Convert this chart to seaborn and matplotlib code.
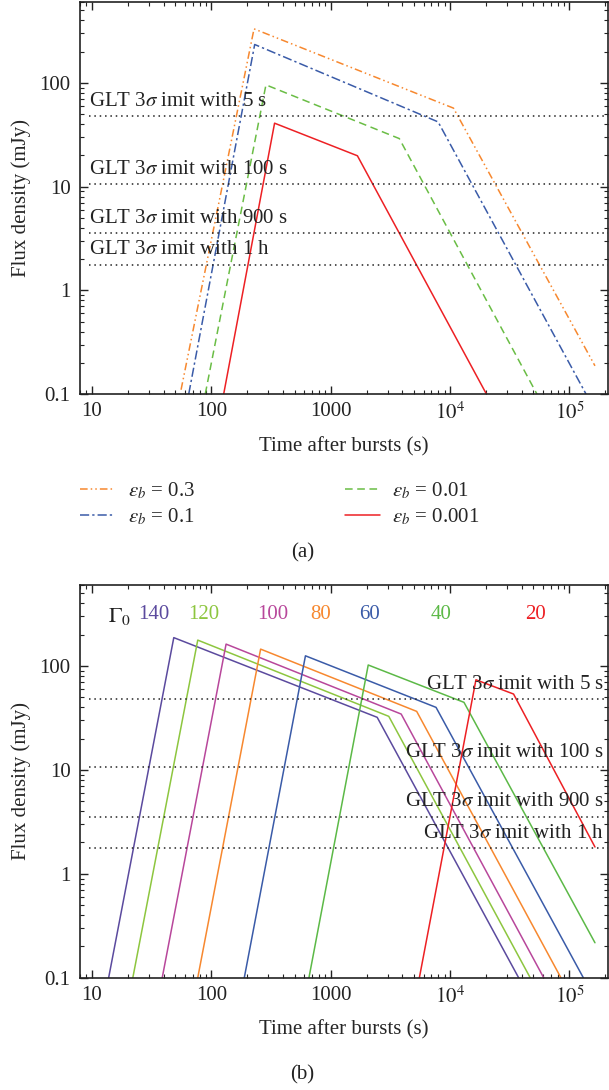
import numpy as np
import pandas as pd
import matplotlib
matplotlib.use("Agg")
import matplotlib.pyplot as plt
from matplotlib.ticker import LogLocator, NullFormatter, FixedLocator, FixedFormatter
import seaborn as sns

# ---- panel (a): light curves for different epsilon_b ----
eps_labels = ["0.3", "0.1", "0.01", "0.001"]
eps_t = [
    [55.8, 228, 10700, 164000],
    [64.7, 231, 7950, 138000],
    [89, 287, 3760, 53500],
    [127, 339, 1676, 20200],
]
eps_f = [
    [0.11, 331, 57, 0.187],
    [0.1, 234, 42, 0.1],
    [0.1, 95.5, 29, 0.1],
    [0.1, 40.8, 19.8, 0.1],
]
eps_colors = ["#f7882f", "#3a5ba8", "#6abd45", "#ed2024"]
eps_styles = [(0, (5, 2, 1, 2, 1, 2)), (0, (6, 2, 1.5, 2)), (0, (5, 3)), "-"]

# ---- panel (b): light curves for different Gamma_0 ----
gam_labels = ["140", "120", "100", "80", "60", "40", "20"]
gam_t = [
    [13.8, 48.5, 2455, 37600],
    [22, 77, 3070, 47000],
    [38.8, 133, 3900, 61000],
    [77, 259, 5260, 85000],
    [189, 615, 7640, 131000],
    [658, 2065, 13100, 164000],
    [5540, 16500, 34100, 164000],
]
gam_f = [
    [0.1, 187, 32, 0.1],
    [0.1, 177, 32.7, 0.1],
    [0.1, 162, 34.4, 0.1],
    [0.1, 145, 36.5, 0.1],
    [0.1, 125, 39.9, 0.1],
    [0.1, 102, 44.6, 0.217],
    [0.1, 73.5, 53.6, 1.81],
]
gam_colors = ["#5b4a9e", "#8dc63f", "#b8479b", "#f7882f", "#3a5ba8", "#5cb947", "#ed2024"]
gam_label_x = [33, 87, 325, 830, 2100, 8450, 52000]

# ---- GLT 3-sigma sensitivity limits ----
limit_names = ["5 s", "100 s", "900 s", "1 h"]
limit_flux = [47.7, 10.6, 3.55, 1.77]

sns.set_theme(style="ticks")
plt.rcParams["font.family"] = ["Liberation Serif", "DejaVu Serif"]
plt.rcParams["mathtext.fontset"] = "stix"
plt.rcParams["xtick.direction"] = "in"
plt.rcParams["ytick.direction"] = "in"

FS = 15
fig = plt.figure(figsize=(6.09, 10.90), dpi=100)
ax_a = fig.add_axes([0.132, 0.6385, 0.866, 0.3596])
ax_b = fig.add_axes([0.132, 0.103, 0.866, 0.3603])


def style_axes(ax):
    ax.set_xscale("log")
    ax.set_yscale("log")
    ax.set_xlim(8, 2.1e5)
    ax.set_ylim(0.1, 600)
    ax.xaxis.set_major_locator(FixedLocator([10, 100, 1000, 1e4, 1e5]))
    ax.xaxis.set_major_formatter(FixedFormatter(["10", "100", "1000", r"$10^4$", r"$10^5$"]))
    ax.yaxis.set_major_locator(FixedLocator([0.1, 1, 10, 100]))
    ax.yaxis.set_major_formatter(FixedFormatter(["0.1", "1", "10", "100"]))
    ax.xaxis.set_minor_locator(LogLocator(base=10, subs=np.arange(2, 10), numticks=20))
    ax.yaxis.set_minor_locator(LogLocator(base=10, subs=np.arange(2, 10), numticks=20))
    ax.xaxis.set_minor_formatter(NullFormatter())
    ax.yaxis.set_minor_formatter(NullFormatter())
    ax.tick_params(which="both", top=True, right=True, labelsize=FS, colors="#222222")
    ax.tick_params(which="major", length=6, width=1.0)
    ax.tick_params(which="minor", length=3, width=0.8)
    ax.tick_params(axis="x", pad=6)
    ax.tick_params(axis="y", pad=7)
    for s in ax.spines.values():
        s.set_visible(True)
        s.set_linewidth(1.2)
        s.set_color("#222222")
    ax.set_xlabel("Time after bursts (s)", fontsize=FS, labelpad=9)
    ax.set_ylabel("Flux density (mJy)", fontsize=FS, labelpad=6)


def draw_limits(ax):
    for f in limit_flux:
        ax.hlines(f, 9.5, 2.1e5, colors="#222222", linestyles=(0, (1, 2.5)), linewidth=1.1)


# panel (a)
for lab, t, f, c, ls in zip(eps_labels, eps_t, eps_f, eps_colors, eps_styles):
    df = pd.DataFrame({"t": t, "f": f})
    sns.lineplot(data=df, x="t", y="f", ax=ax_a, color=c, linewidth=1.1,
                 linestyle=ls, label=r"$\varepsilon_b$ = " + lab, sort=False)
style_axes(ax_a)
draw_limits(ax_a)
for name, f in zip(limit_names, limit_flux):
    ax_a.text(9.5, f * 1.12, r"GLT 3$\sigma$ imit with " + name, fontsize=FS,
              ha="left", va="bottom", color="#222222")
leg = ax_a.legend(loc="upper left", bbox_to_anchor=(-0.037, -0.172), ncol=2, frameon=False,
                  fontsize=FS, handlelength=1.7, columnspacing=7.2, labelspacing=0.25,
                  handletextpad=0.6)

# panel (b)
for lab, t, f, c in zip(gam_labels, gam_t, gam_f, gam_colors):
    df = pd.DataFrame({"t": t, "f": f})
    sns.lineplot(data=df, x="t", y="f", ax=ax_b, color=c, linewidth=1.1,
                 sort=False, legend=False)
style_axes(ax_b)
draw_limits(ax_b)
for name, f in zip(limit_names, limit_flux):
    ax_b.text(1.95e5, f * 1.12, r"GLT 3$\sigma$ imit with " + name, fontsize=FS,
              ha="right", va="bottom", color="#222222")
ax_b.text(17, 300, r"$\Gamma_0$", fontsize=FS + 1, ha="center", va="center", color="#222222")
for lab, x, c in zip(gam_labels, gam_label_x, gam_colors):
    ax_b.text(x, 314, lab, fontsize=FS, ha="center", va="center", color=c)

fig.text(0.497, 1 - 553 / 1090, "(a)", fontsize=FS, ha="center", va="center", color="#222222")
fig.text(0.497, 1 - 1075 / 1090, "(b)", fontsize=FS, ha="center", va="center", color="#222222")

fig.savefig("out.png", dpi=100)
